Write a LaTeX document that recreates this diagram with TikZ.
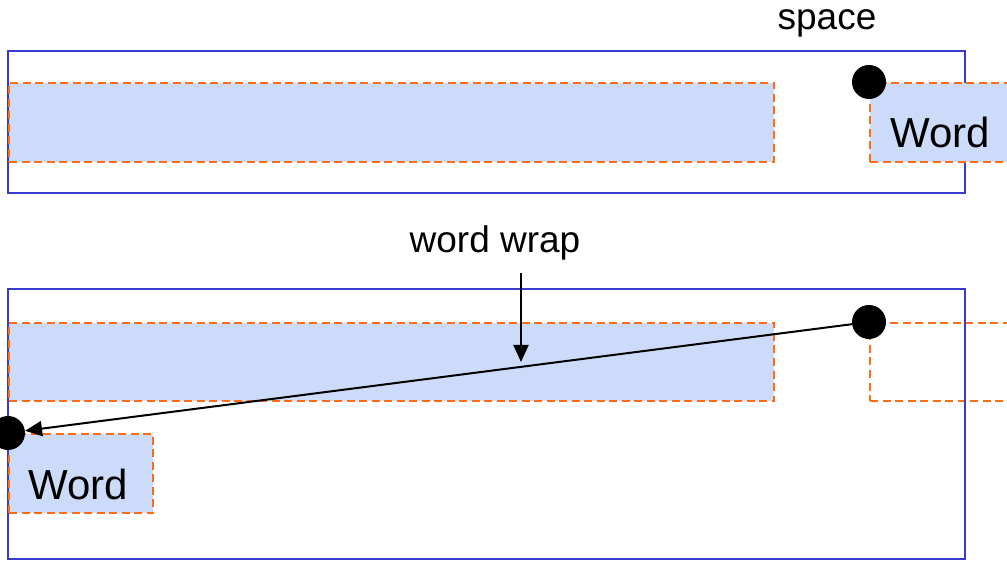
\documentclass[tikz,border=0pt]{standalone}
\usepackage{fontspec}
\setmainfont{Liberation Sans}
\usetikzlibrary{arrows.meta}
\definecolor{boxblue}{RGB}{58,58,204}
\definecolor{wordfill}{RGB}{205,219,250}
\definecolor{dashorange}{RGB}{255,108,20}
\tikzset{
  outerbox/.style={draw=boxblue, line width=2pt, fill=none},
  wordbox/.style={draw=dashorange, line width=2pt, dash pattern=on 8pt off 4.5pt, fill=wordfill},
  ghostbox/.style={draw=dashorange, line width=2pt, dash pattern=on 8pt off 4.5pt},
  dot/.style={circle, fill=black, inner sep=0pt, minimum size=34pt},
  wordtext/.style={inner sep=0pt, anchor=base, font=\fontsize{42}{50}\selectfont},
  labeltext/.style={inner sep=0pt, anchor=base, font=\fontsize{37}{44}\selectfont},
  conn/.style={draw=black, line width=2pt, -{Triangle[length=17pt,width=15pt]}}
}
\begin{document}
\begin{tikzpicture}[x=1pt, y=-1pt]
\useasboundingbox (0,0) rectangle (1007,561);
\clip (0,0) rectangle (1007,561);
% top line
\draw[outerbox] (8,51) rectangle (965,193);
\node[wordbox, anchor=north west, minimum width=765pt, minimum height=79pt, inner sep=0pt] (fillA) at (8,82) {};
\node[wordbox, anchor=north west, minimum width=150pt, minimum height=79pt, inner sep=0pt] (wordA) at (869,82) {};
\node[wordtext] (wordAtext) at (940,148) {Word};
\node[dot] (dotA) at (869,82) {};
\node[labeltext] (spacelabel) at (827,30) {space};
% bottom line
\node[ghostbox, anchor=north west, minimum width=150pt, minimum height=78pt, inner sep=0pt] (ghostB) at (869,322) {};
\draw[outerbox] (8,289) rectangle (965,559);
\node[wordbox, anchor=north west, minimum width=765pt, minimum height=78pt, inner sep=0pt] (fillB) at (8,322) {};
\node[wordbox, anchor=north west, minimum width=144pt, minimum height=79pt, inner sep=0pt] (wordB) at (8,433) {};
\node[wordtext] (wordBtext) at (78,499) {Word};
\node[dot] (dotB) at (869,322) {};
\node[dot] (dotC) at (8,433) {};
\draw[conn] (dotB) -- (dotC);
\node[labeltext] (wraplabel) at (495,253) {word wrap};
\coordinate (wrapstart) at (521,273);
\coordinate (wrapend) at (521,362);
\draw[conn] (wrapstart) -- (wrapend);
\end{tikzpicture}
\end{document}
